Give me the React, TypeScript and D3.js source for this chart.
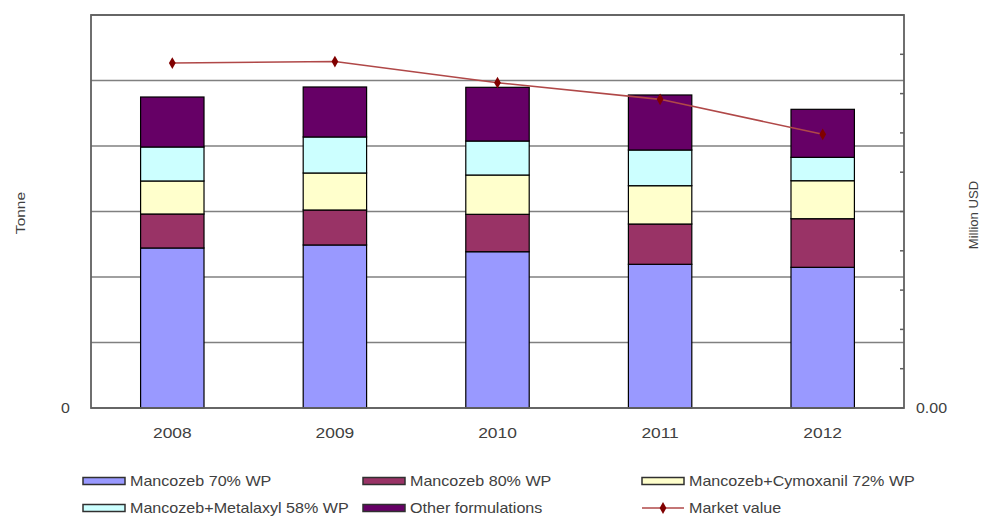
import { useEffect, useRef } from 'react';
import * as d3 from 'd3';

const years = ['2008', '2009', '2010', '2011', '2012'];
const mancozeb70 = [24430, 24890, 23860, 21940, 21480];
const mancozeb80 = [5190, 5340, 5710, 6150, 7420];
const cymoxanil72 = [5040, 5650, 6000, 5850, 5800];
const metalaxyl58 = [5190, 5500, 5190, 5450, 3570];
const otherForms = [7630, 7630, 8200, 8400, 7330];
const marketValue = [438.9, 440.8, 413.9, 392.7, 348.2];

const seriesKeys = ['m70', 'm80', 'cym', 'met', 'oth'];
const seriesNames = ['Mancozeb 70% WP', 'Mancozeb 80% WP', 'Mancozeb+Cymoxanil 72% WP', 'Mancozeb+Metalaxyl 58% WP', 'Other formulations'];
const seriesColors = ['#9999FF', '#993366', '#FFFFCC', '#CCFFFF', '#660066'];

const FONT = '"Liberation Sans", Arial, sans-serif';
const TXT = '#404040';

export default function App() {
  const ref = useRef<SVGSVGElement>(null);
  useEffect(() => {
    if (!ref.current) return;
    const svg = d3.select(ref.current);
    svg.selectAll('*').remove();
    const left = 91, right = 904, top = 15, bottom = 408;

    const rows = years.map((yr, i) => ({ year: yr, m70: mancozeb70[i], m80: mancozeb80[i], cym: cymoxanil72[i], met: metalaxyl58[i], oth: otherForms[i] }));
    const x = d3.scaleBand().domain(years).range([left, right]).paddingInner(0.61).paddingOuter(0.305);
    const y = d3.scaleLinear().domain([0, 60000]).range([bottom, top]);
    const yR = d3.scaleLinear().domain([0, 500]).range([bottom, top]);

    // gridlines
    svg.append('g').selectAll('line').data(y.ticks(6)).enter().append('line')
      .attr('x1', left).attr('x2', right).attr('y1', d => y(d)).attr('y2', d => y(d))
      .attr('stroke', '#808080').attr('stroke-width', 1.6);

    // right axis inner ticks
    svg.append('g').selectAll('line').data(yR.ticks(10)).enter().append('line')
      .attr('x1', right - 4).attr('x2', right).attr('y1', d => yR(d)).attr('y2', d => yR(d))
      .attr('stroke', '#606060').attr('stroke-width', 1.5);

    // bars
    const stack = d3.stack<any>().keys(seriesKeys)(rows);
    stack.forEach((layer, li) => {
      svg.append('g').selectAll('rect').data(layer).enter().append('rect')
        .attr('x', d => x(d.data.year)!)
        .attr('y', d => y(d[1]))
        .attr('width', x.bandwidth())
        .attr('height', d => y(d[0]) - y(d[1]))
        .attr('fill', seriesColors[li]).attr('stroke', '#000').attr('stroke-width', 1.2);
    });

    // frame
    svg.append('rect').attr('x', left).attr('y', top).attr('width', right - left).attr('height', bottom - top)
      .attr('fill', 'none').attr('stroke', '#606060').attr('stroke-width', 1.8);

    // market value line
    const cx = (i: number) => x(years[i])! + x.bandwidth() / 2;
    const line = d3.line<number>().x((_, i) => cx(i)).y(d => yR(d));
    svg.append('path').datum(marketValue).attr('d', line).attr('fill', 'none')
      .attr('stroke', '#B04848').attr('stroke-width', 1.6);
    const diamond = d3.symbol().type(d3.symbolDiamond).size(40);
    svg.append('g').selectAll('path').data(marketValue).enter().append('path')
      .attr('d', diamond).attr('transform', (d, i) => `translate(${cx(i)},${yR(d)})`)
      .attr('fill', '#800000');

    const text = (t: string, tx: number, ty: number, anchor: string, size: number, rot = 0, sx = 1.15) =>
      svg.append('text').text(t)
        .attr('transform', `translate(${tx},${ty}) rotate(${rot}) scale(${sx},1)`)
        .attr('text-anchor', anchor).attr('dominant-baseline', 'central')
        .style('font-family', FONT).style('font-size', `${size}px`).style('fill', TXT);

    // axis labels
    years.forEach((yr, i) => text(yr, cx(i), 433, 'middle', 14.5, 0, 1.2));
    text(String(y.domain()[0]), 70, y(0), 'end', 14.5, 0, 1.1);
    text(d3.format('.2f')(yR.domain()[0]), 916, yR(0), 'start', 14.5, 0, 1.1);
    text('Tonne', 20, 213, 'middle', 13.5, -90, 1.15);
    text('Million USD', 974, 215, 'middle', 12.5, -90, 1.05);

    // legend
    const legendPos = [[83, 481], [363, 481], [642, 481], [83, 508], [363, 508]];
    seriesNames.forEach((name, i) => {
      const [lx, ly] = legendPos[i];
      svg.append('rect').attr('x', lx).attr('y', ly - 3.5).attr('width', 42).attr('height', 7)
        .attr('fill', seriesColors[i]).attr('stroke', '#303030').attr('stroke-width', 1.5);
      text(name, lx + 47, ly, 'start', 14, 0, 1.15);
    });
    const mx = 642, my = 508;
    svg.append('line').attr('x1', mx).attr('x2', mx + 42).attr('y1', my).attr('y2', my)
      .attr('stroke', '#B04848').attr('stroke-width', 1.6);
    svg.append('path').attr('d', diamond).attr('transform', `translate(${mx + 21},${my})`).attr('fill', '#800000');
    text('Market value', mx + 47, my, 'start', 14, 0, 1.15);
  }, []);
  return (
    <svg ref={ref} width={982} height={519}
      style={{ position: 'absolute', left: 0, top: 0, background: '#fff' }} />
  );
}
